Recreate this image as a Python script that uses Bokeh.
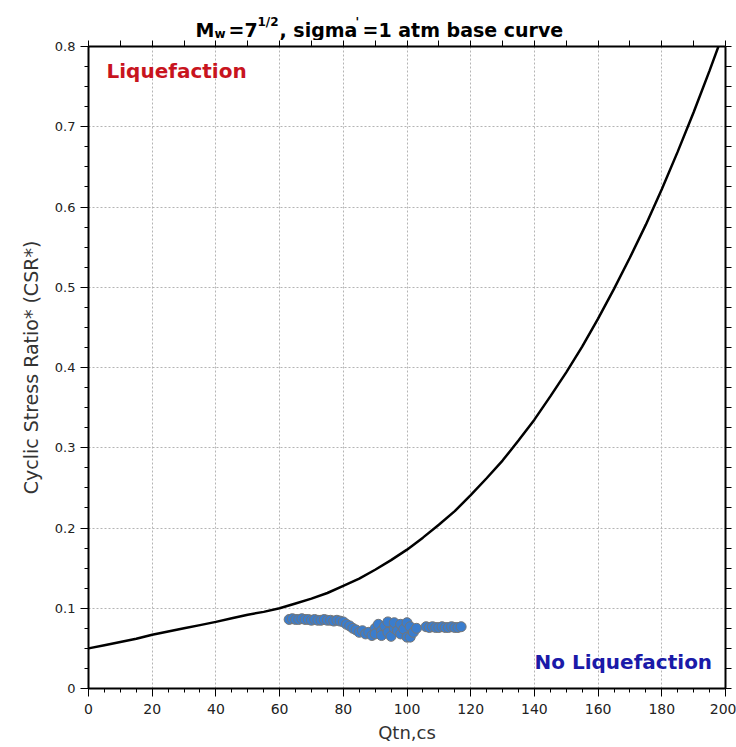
from bokeh.plotting import figure
from bokeh.layouts import column
from bokeh.models import (Range1d, LinearAxis, FixedTicker, Label, ColumnDataSource,
                          CustomLabelingPolicy, CustomJSTickFormatter)
from bokeh.embed import file_html
from bokeh.resources import INLINE

# ---- data ----
curve_qtn = [0, 5, 10, 15, 20, 25, 30, 35, 40, 45, 50, 55, 60, 65, 70, 75, 80, 85, 90, 95,
             100, 105, 110, 115, 120, 125, 130, 135, 140, 145, 150, 155, 160, 165, 170, 175,
             180, 185, 190, 195, 200]
curve_csr = [0.050, 0.054, 0.058, 0.062, 0.067, 0.071, 0.075, 0.079, 0.083, 0.0875, 0.092,
             0.0955, 0.100, 0.106, 0.112, 0.119, 0.128, 0.137, 0.148, 0.160,
             0.173, 0.188, 0.204, 0.221, 0.241, 0.262, 0.284, 0.309, 0.335, 0.364,
             0.394, 0.426, 0.461, 0.498, 0.537, 0.578, 0.622, 0.669, 0.718, 0.770, 0.824]

pts_qtn = [63, 64, 65, 66, 67, 68, 69, 70, 71, 72, 73, 74, 75, 76, 77, 78, 79, 80,
           81, 82, 83, 84, 85, 86, 87, 88, 89, 90, 90, 91, 92, 92, 93, 94, 94, 95, 96, 96,
           97, 98, 98, 99, 100, 100, 101, 101, 102, 103,
           106, 107, 108, 109, 110, 111, 112, 113, 114, 115, 116, 117]
pts_csr = [0.086, 0.087, 0.086, 0.086, 0.087, 0.086, 0.086, 0.085, 0.086, 0.085, 0.085,
           0.086, 0.085, 0.085, 0.084, 0.085, 0.084, 0.083,
           0.080, 0.078, 0.075, 0.073, 0.070, 0.072, 0.068, 0.070, 0.066, 0.075, 0.068,
           0.080, 0.072, 0.066, 0.078, 0.083, 0.070, 0.065, 0.075, 0.082,
           0.072, 0.080, 0.068, 0.074, 0.082, 0.064, 0.077, 0.064, 0.070, 0.075,
           0.077, 0.076, 0.077, 0.076, 0.076, 0.077, 0.076, 0.076, 0.077, 0.076, 0.076, 0.077]

x_major = [0, 20, 40, 60, 80, 100, 120, 140, 160, 180, 200]
x_minor = [v for v in range(0, 201, 5)]
x_top = [v for v in range(0, 201, 10)]
y_major = [0, 0.1, 0.2, 0.3, 0.4, 0.5, 0.6, 0.7, 0.8]
y_minor = [i * 0.025 for i in range(0, 33)]

title_parts = ["M", "w", "=7", "1/2", ", sigma", "'", "=1 atm base curve"]

FONT = "DejaVu Sans"
FRAME_L, FRAME_R = 88, 725

# ---- title strip (sub/superscripts built from pieces); its frame is aligned
# with the chart frame by the column layout, so x is given in page pixels ----
TH = 40
t = figure(width=736, height=TH, output_backend="svg", toolbar_location=None,
           x_range=Range1d(FRAME_L, FRAME_R), y_range=Range1d(0, TH),
           min_border=0, min_border_left=FRAME_L, min_border_right=736 - FRAME_R,
           min_border_top=0, min_border_bottom=0)
t.axis.visible = False
t.grid.visible = False
t.outline_line_color = None
t.background_fill_color = "white"
t.border_fill_color = "white"
title_specs = [
    (195, TH - 29, "19px"),
    (214, TH - 33, "12px"),
    (228, TH - 29, "19px"),
    (257, TH - 21, "12px"),
    (279, TH - 29, "19px"),
    (355, TH - 21, "12px"),
    (362, TH - 29, "19px"),
]
for txt, (sx, sy, fs) in zip(title_parts, title_specs):
    t.add_layout(Label(x=sx, y=sy, text=txt, text_color="black", text_font=FONT,
                       text_font_style="bold", text_font_size=fs,
                       text_baseline="alphabetic"))

# ---- main chart ----
p = figure(width=736, height=747 - TH, output_backend="svg", toolbar_location=None,
           x_range=Range1d(0, 200), y_range=Range1d(0, 0.8),
           min_border_left=FRAME_L, min_border_right=736 - FRAME_R,
           min_border_top=46 - TH, min_border_bottom=59,
           x_axis_label="Qtn,cs", y_axis_label="Cyclic Stress Ratio* (CSR*)")
p.outline_line_color = None
p.background_fill_color = "white"
p.border_fill_color = "white"

p.xgrid.ticker = FixedTicker(ticks=x_major)
p.ygrid.ticker = FixedTicker(ticks=y_major)
for g in (p.xgrid, p.ygrid):
    g.grid_line_color = "#b4b4b4"
    g.grid_line_dash = "2 2"
    g.grid_line_width = 1

xa = p.xaxis[0]
ya = p.yaxis[0]
xa.ticker = FixedTicker(ticks=x_major, minor_ticks=x_minor)
ya.ticker = FixedTicker(ticks=y_major, minor_ticks=y_minor)
ya.major_label_overrides = {0: "0"}
for ax in (xa, ya):
    ax.axis_line_width = 2
    ax.axis_line_color = "black"
    ax.major_tick_line_color = "black"
    ax.minor_tick_line_color = "black"
    ax.major_tick_in = 0
    ax.minor_tick_in = 0
    ax.major_tick_out = 8
    ax.minor_tick_out = 4
    ax.major_label_text_font = FONT
    ax.major_label_text_font_size = "13px"
    ax.major_label_text_color = "#222222"
    ax.axis_label_text_font = FONT
    ax.axis_label_text_font_style = "normal"
    ax.axis_label_text_color = "#333333"
xa.major_label_text_font_size = "14px"
xa.major_label_standoff = 7
xa.axis_label_text_font_size = "18px"
ya.axis_label_text_font_size = "19px"
xa.axis_label_standoff = 5
ya.axis_label_standoff = 10

no_labels = "return []"
blank = "return ''"
top = LinearAxis(ticker=FixedTicker(ticks=x_top), axis_line_width=2,
                 major_tick_in=0, major_tick_out=6, minor_tick_out=0,
                 major_label_standoff=0, major_label_text_font_size="1px",
                 formatter=CustomJSTickFormatter(code=blank),
                 major_label_policy=CustomLabelingPolicy(code=no_labels))
right = LinearAxis(ticker=FixedTicker(ticks=y_minor), axis_line_width=2,
                   major_tick_in=0, major_tick_out=6, minor_tick_out=0,
                   major_label_standoff=0, major_label_text_font_size="1px",
                   formatter=CustomJSTickFormatter(code=blank),
                   major_label_policy=CustomLabelingPolicy(code=no_labels))
p.add_layout(top, "above")
p.add_layout(right, "right")

p.line(curve_qtn, curve_csr, line_color="black", line_width=2.5)

src = ColumnDataSource(dict(x=pts_qtn, y=pts_csr))
p.scatter("x", "y", source=src, size=10, fill_color="#3a7dce", line_color="#767676",
          line_width=1)

p.add_layout(Label(x=18, y=618, x_units="screen", y_units="screen", text="Liquefaction",
                   text_color="#c8141e", text_font=FONT, text_font_style="bold",
                   text_font_size="20px", text_baseline="middle"))
p.add_layout(Label(x=446, y=27, x_units="screen", y_units="screen", text="No Liquefaction",
                   text_color="#1a1aa8", text_font=FONT, text_font_style="bold",
                   text_font_size="20px", text_baseline="middle"))

layout = column(t, p, spacing=0)
open("out.html", "w").write(file_html(layout, INLINE))
